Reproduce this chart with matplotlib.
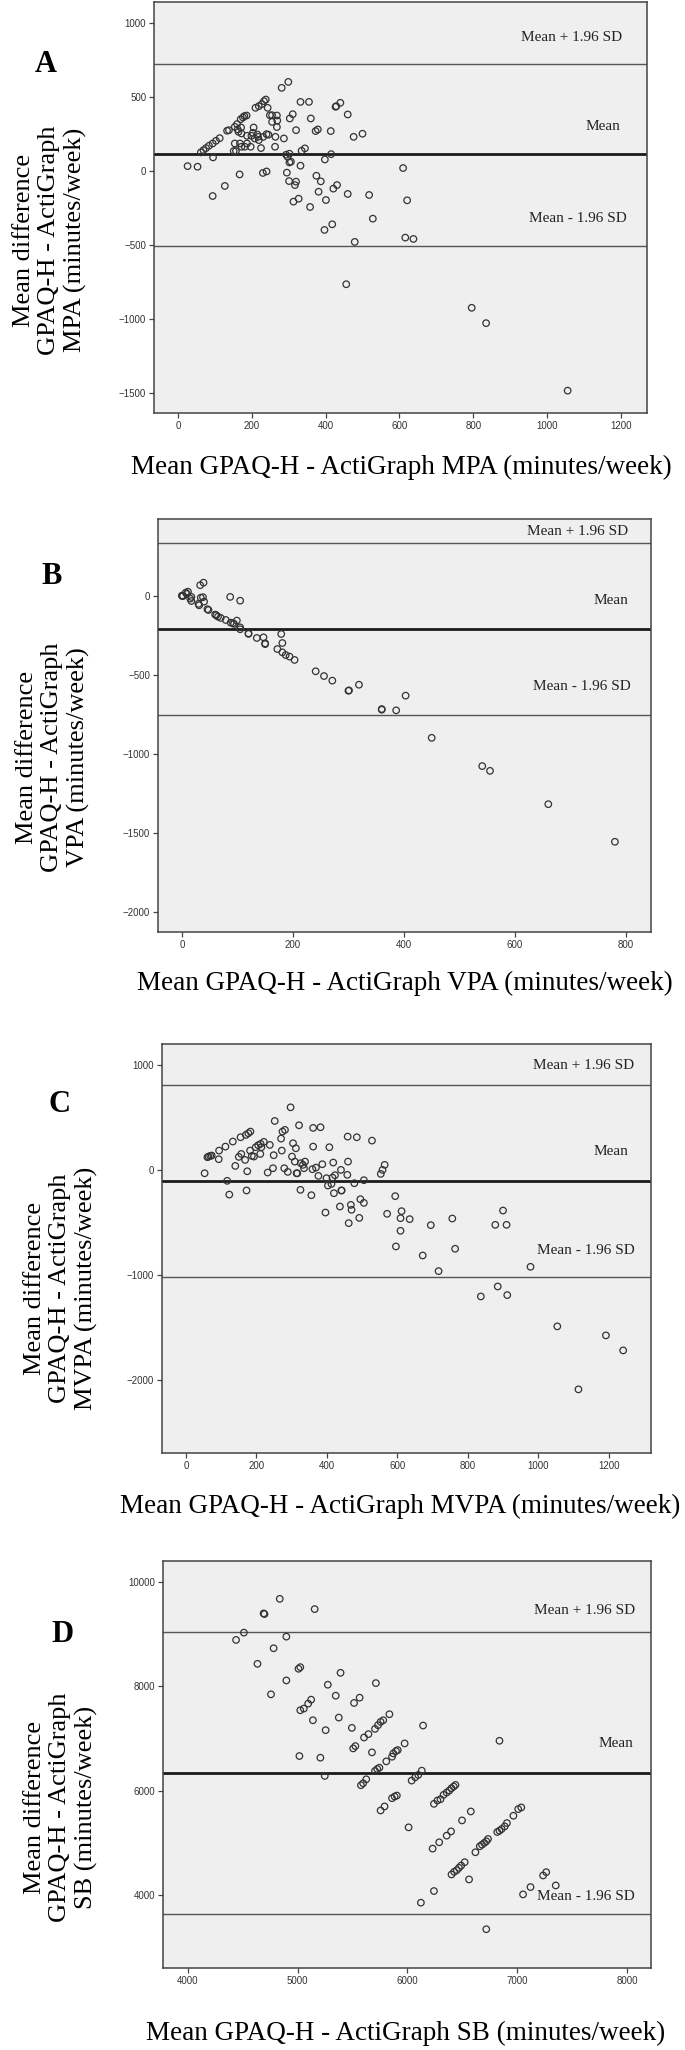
import matplotlib
matplotlib.use("Agg")
import matplotlib.pyplot as plt

# ---- data ----
mpa_mean_x = [26, 53, 95, 94, 127, 62, 69, 76, 84, 94, 103, 113, 133, 138, 160, 170, 176, 180, 186, 210,
              219, 227, 233, 238, 154, 162, 171, 172, 164, 187, 181, 172, 154, 151, 157, 168, 187, 205, 203,
              199, 208, 215, 219, 225, 217, 197, 231, 240, 245, 249, 255, 263, 264, 268, 268, 269, 243, 255,
              287, 281, 299, 293, 302, 306, 302, 297, 303, 311, 320, 332, 355, 360, 373, 379, 335, 344, 332,
              295, 301, 320, 317, 313, 327, 358, 375, 387, 381, 401, 397, 418, 398, 415, 414, 421, 431, 427,
              429, 440, 460, 460, 476, 500, 479, 518, 528, 456, 610, 621, 616, 638, 796, 835, 1056, 167, 230, 240]
mpa_diff_y = [31, 27, 90, -171, -103, 124, 139, 153, 169, 184, 202, 220, 270, 274, 315, 348, 360, 369, 373, 425,
              436, 450, 470, 481, 297, 279, 292, 252, 263, 236, 162, 162, 184, 133, 133, 184, 184, 292, 256,
              236, 218, 245, 207, 153, 229, 162, 229, 247, 243, 375, 330, 162, 229, 295, 373, 339, 425, 375,
              218, 560, 600, 108, 115, 61, 56, 94, 353, 382, 274, 465, 465, 353, 268, 279, 135, 151, 34,
              -13, -70, -74, -97, -209, -189, -245, -34, -72, -142, -198, -400, -362, 76, 112, 268, -121, -97, 432,
              436, 459, 380, -157, 229, 250, -481, -164, -324, -767, 18, -200, -452, -461, -926, -1030, -1486, -25, -15, -5]
mpa_loa = [110, 724, -506]   # mean, upper, lower

vpa_mean_x = [0, 2, 7, 11, 9, 15, 17, 17, 33, 39, 34, 38, 40, 31, 46, 48, 60, 65, 70, 79, 88, 94, 99, 105,
              105, 87, 105, 120, 135, 147, 150, 179, 181, 172, 181, 187, 194, 203, 241, 256, 271, 301, 319,
              360, 386, 403, 450, 541, 555, 660, 780, 1, 30, 62, 92, 120, 150, 300, 360]
vpa_diff_y = [2, 0, 21, 27, 13, -17, -6, -32, 68, 84, -11, -8, -36, -59, -84, -89, -118, -131, -139, -152,
              -169, -177, -156, -211, -199, -6, -30, -237, -266, -262, -300, -241, -298, -336, -357, -374, -384,
              -405, -477, -507, -536, -598, -562, -716, -724, -631, -898, -1077, -1107, -1318, -1556,
              -1, -50, -122, -172, -240, -305, -600, -720]
vpa_loa = [-209, 335, -754]

mvpa_mean_x = [53, 61, 64, 69, 73, 93, 94, 112, 117, 123, 133, 140, 150, 155, 157, 168, 170, 174, 172, 177,
               183, 182, 187, 193, 198, 205, 211, 212, 214, 221, 232, 238, 247, 249, 252, 270, 274, 279, 281,
               272, 289, 297, 301, 304, 309, 312, 314, 316, 321, 325, 326, 332, 338, 335, 356, 359, 361, 361,
               369, 376, 382, 387, 396, 399, 403, 407, 413, 416, 418, 420, 423, 437, 440, 441, 442, 458, 459,
               460, 462, 468, 470, 478, 485, 492, 495, 505, 505, 528, 553, 558, 564, 571, 594, 596, 609, 612,
               609, 635, 672, 695, 717, 756, 764, 837, 878, 885, 900, 910, 912, 978, 1054, 1192, 1241, 1114]
mvpa_diff_y = [-29, 124, 130, 136, 140, 105, 187, 225, -101, -232, 273, 41, 127, 314, 155, 98, 336, -10, -193, 352,
               368, 187, 136, 130, 219, 238, 155, 251, 219, 270, -22, 241, 19, 143, 469, 301, 368, 19, 384,
               187, -16, 599, 130, 257, 82, 209, -29, -29, 428, -187, 67, 51, 82, 19, -238, 10, 403, 225,
               25, -54, 409, 57, -403, -76, -146, 219, -130, -70, 73, -219, -48, -346, 3, -193, -193, -44, 320,
               82, -504, -330, -377, -124, 314, -454, -276, -95, -311, 282, -35, 3, 51, -415, -247, -726, -457, -390,
               -577, -466, -812, -523, -961, -460, -748, -1202, -520, -1107, -384, -520, -1189, -920, -1487, -1573, -1716, -2087]
mvpa_loa = [-105, 812, -1015]

sb_mean_x = [4438, 4509, 4633, 4689, 4697, 4780, 4756, 4836, 4896, 4896, 5007, 5023, 5015, 5023, 5055, 5095,
             5122, 5138, 5154, 5206, 5246, 5254, 5274, 5346, 5374, 5390, 5493, 5513, 5505, 5525, 5564, 5576,
             5596, 5624, 5604, 5644, 5676, 5712, 5704, 5731, 5755, 5779, 5835, 5704, 5724, 5744, 5755, 5791,
             5807, 5859, 5871, 5895, 5911, 5859, 5883, 5903, 5974, 6010, 6038, 6070, 6098, 6130, 6142, 6122,
             6229, 6241, 6241, 6273, 6289, 6301, 6329, 6357, 6357, 6381, 6401, 6421, 6437, 6397, 6401, 6425,
             6449, 6469, 6489, 6521, 6497, 6561, 6577, 6718, 6619, 6659, 6679, 6699, 6718, 6734, 6838, 6818,
             6838, 6858, 6886, 6906, 6965, 7009, 7037, 7053, 7121, 7236, 7264, 7351]
sb_diff_y = [8889, 9029, 8432, 9397, 9384, 8730, 7848, 9676, 8952, 8114, 8337, 8368, 6667, 7543, 7575, 7670,
             7746, 7352, 9479, 6635, 6286, 7162, 8032, 7822, 7403, 8260, 7206, 7683, 6813, 6857, 7784, 6108,
             6146, 6222, 7022, 7086, 6737, 8063, 7187, 7257, 7321, 7352, 7467, 6381, 6419, 6444, 5625, 5702,
             6565, 6654, 6717, 6762, 6781, 5860, 5892, 5911, 6908, 5302, 6197, 6260, 6305, 6387, 7251, 3860,
             4895, 5752, 4083, 5816, 5016, 5841, 5924, 5143, 5968, 6006, 6051, 6083, 6114, 5225, 4400, 4451,
             4483, 4527, 4571, 4635, 5435, 4305, 5606, 3352, 4825, 4940, 4971, 5003, 5035, 5079, 6959, 5213,
             5238, 5270, 5321, 5384, 5524, 5651, 5683, 4019, 4159, 4381, 4444, 4190]
sb_loa = [6337, 9048, 3638]

# layout in figure pixels: box = (left, right, top, bottom)
panels = [
    dict(letter="A", name="MPA", x=mpa_mean_x, y=mpa_diff_y, loa=mpa_loa,
         box=(154, 647, 2, 413), xlim=(-65, 1271), ylim=(-1637, 1140),
         xticks=range(0, 1201, 200), yticks=range(-1500, 1001, 500),
         lab_x=(1204, 1198, 1216), lab_y=(897, 297, -321),
         letter_xy=(46, 65), ylab_xy=(50, 240), xlab_xy=(401, 467)),
    dict(letter="B", name="VPA", x=vpa_mean_x, y=vpa_diff_y, loa=vpa_loa,
         box=(158, 651, 519, 932), xlim=(-43, 845), ylim=(-2127, 487),
         xticks=range(0, 801, 200), yticks=range(-2000, 1, 500),
         lab_x=(804, 804, 808), lab_y=(411, -32, -570),
         letter_xy=(52, 577), ylab_xy=(53, 757), xlab_xy=(405, 983)),
    dict(letter="C", name="MVPA", x=mvpa_mean_x, y=mvpa_diff_y, loa=mvpa_loa,
         box=(162, 651, 1044, 1453), xlim=(-68, 1320), ylim=(-2693, 1202),
         xticks=range(0, 1201, 200), yticks=range(-2000, 1001, 1000),
         lab_x=(1272, 1256, 1274), lab_y=(999, 178, -764),
         letter_xy=(59, 1105), ylab_xy=(61, 1288), xlab_xy=(400, 1506)),
    dict(letter="D", name="SB", x=sb_mean_x, y=sb_diff_y, loa=sb_loa,
         box=(163, 651, 1561, 1968), xlim=(3772, 8219), ylim=(2610, 10400),
         xticks=range(4000, 8001, 1000), yticks=range(4000, 10001, 2000),
         lab_x=(8072, 8060, 8072), lab_y=(9460, 6908, 3987),
         letter_xy=(63, 1635), ylab_xy=(61, 1807), xlab_xy=(406, 2033)),
]

W, H = 685, 2050
serif = ["Liberation Serif", "DejaVu Serif"]
sans = ["Liberation Sans", "DejaVu Sans"]

fig = plt.figure(figsize=(W / 100, H / 100), dpi=100)

for p in panels:
    l, r, t, b = p["box"]
    ax = fig.add_axes([l / W, 1 - b / H, (r - l) / W, (b - t) / H])
    ax.set_facecolor("#efefef")
    for s in ax.spines.values():
        s.set_color("#444444")
        s.set_linewidth(1.1)

    mean, upper, lower = p["loa"]
    ax.axhline(upper, color="#555555", lw=1.0)
    ax.axhline(lower, color="#555555", lw=1.0)
    ax.axhline(mean, color="#1a1a1a", lw=2.0)

    ax.scatter(p["x"], p["y"], s=22, facecolors="none", edgecolors="#333333", linewidths=0.9, zorder=3)

    ax.set_xlim(*p["xlim"])
    ax.set_ylim(*p["ylim"])
    ax.set_xticks(list(p["xticks"]))
    ax.set_yticks(list(p["yticks"]))
    ax.tick_params(direction="out", length=3.6, width=0.9, pad=2, color="#444444",
                   labelsize=7, labelcolor="#333333")
    for lab in ax.get_xticklabels() + ax.get_yticklabels():
        lab.set_family(sans)

    texts = ["Mean + 1.96 SD", "Mean", "Mean - 1.96 SD"]
    for txt, tx, ty in zip(texts, p["lab_x"], p["lab_y"]):
        ax.text(tx, ty, txt, ha="right", va="center", family=serif, fontsize=11, color="#222222")

    fig.text(p["letter_xy"][0] / W, 1 - p["letter_xy"][1] / H, p["letter"], family=serif,
             fontsize=22, fontweight="bold", ha="center", va="center")
    fig.text(p["ylab_xy"][0] / W, 1 - p["ylab_xy"][1] / H,
             "Mean difference\nGPAQ-H - ActiGraph\n%s (minutes/week)" % p["name"],
             family=serif, fontsize=19, rotation=90, ha="center", va="center", multialignment="center")
    fig.text(p["xlab_xy"][0] / W, 1 - p["xlab_xy"][1] / H,
             "Mean GPAQ-H - ActiGraph %s (minutes/week)" % p["name"],
             family=serif, fontsize=19.5, ha="center", va="center")

fig.savefig("out.png", dpi=100)
